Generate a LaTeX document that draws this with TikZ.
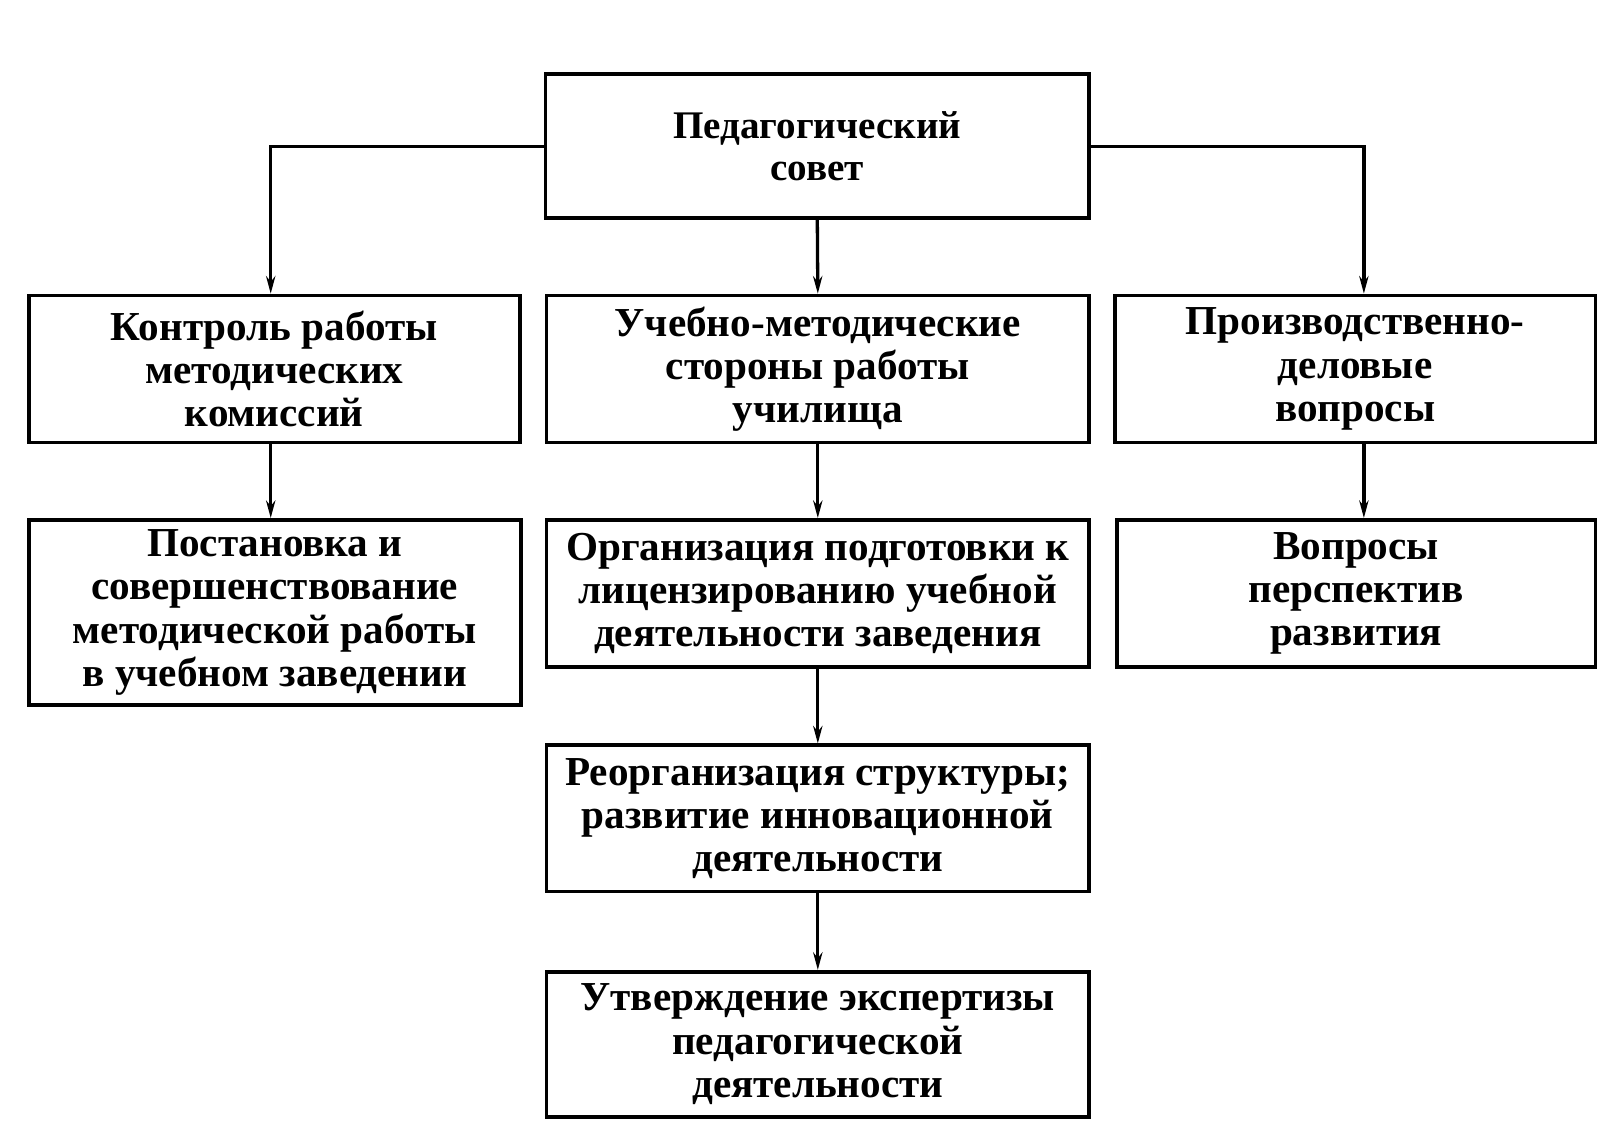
\documentclass[tikz,border=0pt]{standalone}
\usepackage{fontspec}
\setmainfont{Liberation Serif}
\usetikzlibrary{arrows.meta,calc}
\begin{document}
\begin{tikzpicture}[x=1pt,y=1pt,
  box/.style={draw, line width=3.5pt, align=center, inner sep=0pt,
    font=\fontsize{40}{42}\selectfont\bfseries},
  arr/.style={line width=3.2pt, -{Stealth[length=17pt,width=9pt]}}]
\useasboundingbox[fill=white] (0,0) rectangle (1568,-1114);
\node[box, minimum width=528, minimum height=140, font=\fontsize{38}{41}\selectfont\bfseries] (top) at (794,-142) {Педагогический\\совет};
\node[box, minimum width=477, minimum height=143] (L2) at (266.5,-358.5) {Контроль работы\\методических\\комиссий};
\node[box, minimum width=527, minimum height=143] (M2) at (794.5,-358.5) {Учебно-методические\\стороны работы\\училища};
\node[box, minimum width=467, minimum height=143] (R2) at (1316.5,-358.5) {Производственно-\\деловые\\вопросы};
\node[box, minimum width=478, minimum height=180] (L3) at (267,-595) {Постановка и\\совершенствование\\методической работы\\в учебном заведении};
\node[box, minimum width=527, minimum height=143] (M3) at (794.5,-576.5) {Организация подготовки к\\лицензированию учебной\\деятельности заведения};
\node[box, minimum width=465, minimum height=143] (R3) at (1317.5,-576.5) {Вопросы\\перспектив\\развития};
\node[box, minimum width=527, minimum height=142] (M4) at (794.5,-795) {Реорганизация структуры;\\развитие инновационной\\деятельности};
\node[box, minimum width=527, minimum height=141] (M5) at (794.5,-1014.5) {Утверждение экспертизы\\педагогической\\деятельности};
\draw[arr] (top.west) -| ($(L2.north)+(-3.5,0)$);
\draw[arr] (top.east) -| ($(R2.north)+(8.5,0)$);
\draw[arr] (top.south) -- (M2.north);
\draw[arr] ($(L2.south)+(-3.5,0)$) -- ($(L3.north)+(-4,0)$);
\draw[arr] (M2.south) -- (M3.north);
\draw[arr] ($(R2.south)+(8.5,0)$) -- ($(R3.north)+(7.5,0)$);
\draw[arr] (M3.south) -- (M4.north);
\draw[arr] (M4.south) -- (M5.north);
\end{tikzpicture}
\end{document}
